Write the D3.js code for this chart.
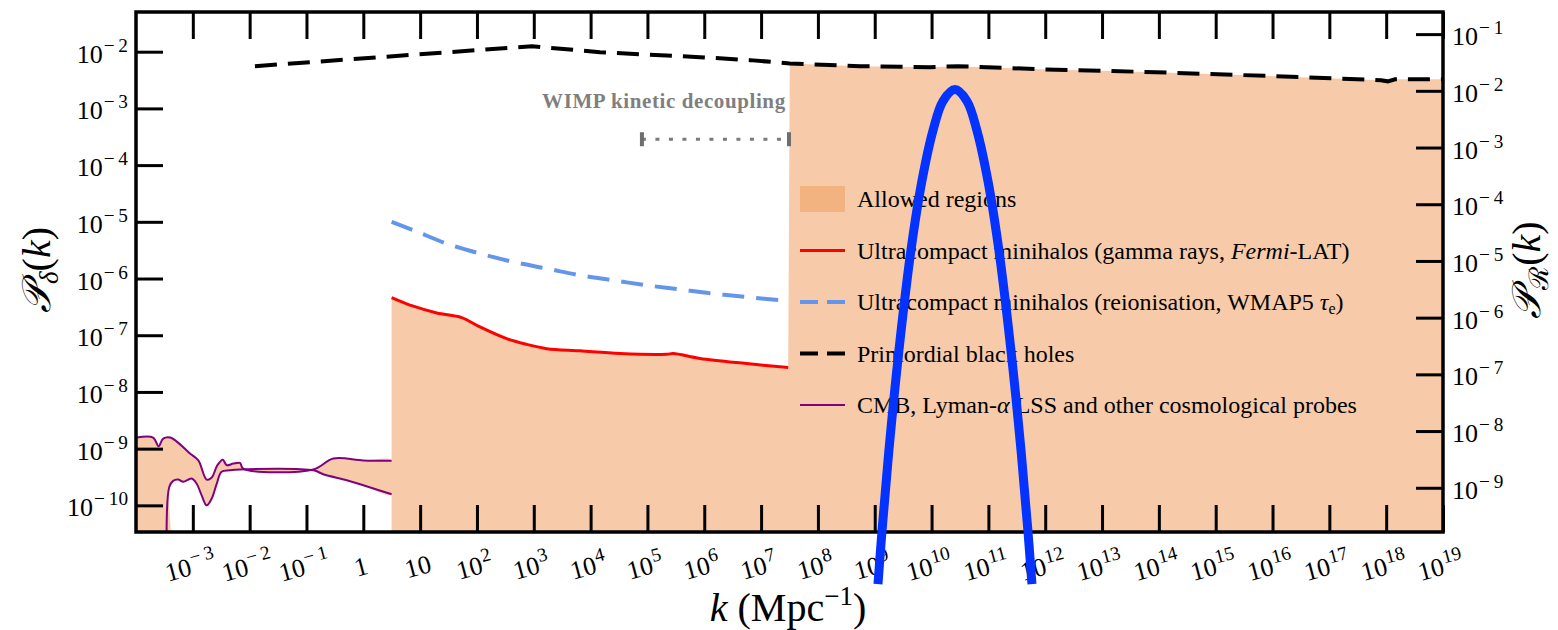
<!DOCTYPE html>
<html>
<head>
<meta charset="utf-8">
<title>Power spectrum constraints</title>
<script src="https://d3js.org/d3.v7.min.js"></script>
<style>
body { margin: 0; background: #fff; }
text { font-family: "Liberation Serif", "DejaVu Serif", serif; fill: #000; }
</style>
</head>
<body>
<div id="chart"></div>
<script>
// k in Mpc^-1, P_delta on left axis, P_R on right axis
var kTickExp = [-3,-2,-1,0,1,2,3,4,5,6,7,8,9,10,11,12,13,14,15,16,17,18,19];
var pdTickExp = [-2,-3,-4,-5,-6,-7,-8,-9,-10];
var prTickExp = [-1,-2,-3,-4,-5,-6,-7,-8,-9];

// CMB / Lyman-alpha / LSS band (upper and lower edge)
var cmbUpper = [[1.03e-4,1.57e-9],[2.0e-4,1.57e-9],[2.5e-4,1.1e-9],[3.0e-4,1.5e-9],[4.0e-4,1.57e-9],
  [5.9e-4,1.2e-9],[8.9e-4,8.2e-10],[1.25e-3,6.2e-10],[1.75e-3,2.85e-10],[2.15e-3,3.1e-10],
  [2.7e-3,5.1e-10],[3.36e-3,6.4e-10],[3.95e-3,5.1e-10],[5.15e-3,5.45e-10],[6.76e-3,5.6e-10],
  [7.7e-3,4.45e-10],[0.132,4.3e-10],[0.297,6.7e-10],[1.0,6.2e-10],[3.15,6.1e-10]];
var cmbLower = [[3.47e-4,1e-11],[3.85e-4,2.1e-10],[4.5e-4,2.7e-10],[5.5e-4,2.85e-10],[6.8e-4,2.6e-10],
  [9.5e-4,2.97e-10],[1.17e-3,2.4e-10],[1.43e-3,1.5e-10],[1.75e-3,1.0e-10],[2.15e-3,1.32e-10],
  [2.63e-3,2.4e-10],[3.2e-3,3.9e-10],[4.5e-3,4.15e-10],[6.76e-3,4.3e-10],[0.132,4.15e-10],
  [0.198,3.54e-10],[0.51,2.77e-10],[1.0,2.26e-10],[3.15,1.57e-10]];

// Ultracompact minihalos, gamma rays (Fermi-LAT)
var ucmhGamma = [[3.15,4.62e-7],[7.6,3.25e-7],[19.6,2.47e-7],[53.8,2.05e-7],[113,1.4e-7],[333,8.7e-8],
  [750,6.9e-8],[1690,5.8e-8],[6500,5.3e-8],[3.3e4,4.75e-8],[2.18e5,4.62e-8],[2.85e5,4.75e-8],
  [8.4e5,3.9e-8],[5.57e6,3.17e-8],[3.0e7,2.7e-8]];

// Ultracompact minihalos, reionisation (WMAP5)
var ucmhReion = [[3.15,9.95e-6],[7.6,7.1e-6],[29.3,4.14e-6],[113,2.76e-6],[435,1.96e-6],[1690,1.5e-6],
  [6500,1.14e-6],[2.5e4,9.3e-7],[9.7e4,7.6e-7],[3.73e5,6.4e-7],[1.44e6,5.4e-7],[5.57e6,4.73e-7],[3.0e7,4.0e-7]];

// Primordial black holes
var pbh = [[1.24e-2,5.55e-3],[930,1.25e-2],[1.46e4,9.8e-3],[8.4e5,8.0e-3],[6.4e6,7.1e-3],[3.2e7,6.2e-3],
  [5.5e8,5.55e-3],[9.4e9,5.33e-3],[2.9e10,5.55e-3],[8.1e11,4.9e-3],[8.9e13,4.35e-3],[1.1e16,3.7e-3],
  [8.1e17,3.14e-3],[1.07e18,3.0e-3],[1.43e18,3.27e-3],[1e19,3.27e-3]];

// WIMP kinetic decoupling range (k), at P_delta level
var wimpK = [8.0e4, 3.1e7];
var wimpP = 2.86e-4;
var wimpLabelK = 1.95e5, wimpLabelP = 1.34e-3;

// blue peak drawn over the plot, P_R (right axis)
var peak = [[1.14e9,2.0e-11],[1.34e9,1.7e-10],[1.78e9,4.7e-9],[2.67e9,2.7e-7],[4.34e9,1.55e-5],
  [6.78e9,2.6e-4],[1.06e10,2.0e-3],[1.59e10,6.6e-3],[2.58e10,1.05e-2],[4.19e10,6.6e-3],[6.28e10,2.0e-3],
  [9.8e10,2.6e-4],[1.53e11,1.55e-5],[2.49e11,2.7e-7],[3.74e11,4.7e-9],[4.97e11,1.7e-10],[5.84e11,2.0e-11]];

var legendItems = ["Allowed regions","Ultracompact minihalos (gamma rays, Fermi-LAT)",
  "Ultracompact minihalos (reionisation, WMAP5 τe)","Primordial black holes",
  "CMB, Lyman-α LSS and other cosmological probes"];

var W = 1558, H = 630;
var L = 136, R = 1443, T = 12, B = 532;
var orange = "#f7cbaa", orangeDark = "#f3b381";

var svg = d3.select("#chart").append("svg").attr("width", W).attr("height", H);

var x = d3.scaleLog().domain([1e-4, 1e19]).range([L, R]);
var yL = d3.scaleLog().domain([Math.pow(10,-10.47), Math.pow(10,-1.30)]).range([B, T]);
var yR = d3.scaleLog().domain([Math.pow(10,-9.78), Math.pow(10,-0.61)]).range([B, T]);
var floorP = 1e-11;

svg.append("clipPath").attr("id","plotclip").append("rect")
  .attr("x", L).attr("y", T).attr("width", R-L).attr("height", B-T);
var plot = svg.append("g").attr("clip-path","url(#plotclip)");

var line = d3.line().x(d => x(d[0])).y(d => yL(d[1]));
var lineS = d3.line().x(d => x(d[0])).y(d => yL(d[1])).curve(d3.curveCatmullRom);

// allowed regions
var cmbPoly = [[1e-4, cmbUpper[0][1]]].concat(cmbUpper)
  .concat(cmbLower.slice().reverse()).concat([[1e-4, floorP]]);
plot.append("path").attr("d", lineS(cmbPoly) + "Z").attr("fill", orange).attr("stroke","none");

var bigTop = ucmhGamma.concat(pbh.filter(d => d[0] >= 3.1e7));
var bigPoly = [[ucmhGamma[0][0], floorP]].concat(bigTop).concat([[1e19, floorP]]);
plot.append("path").attr("d", line(bigPoly) + "Z").attr("fill", orange).attr("stroke","none");

// curves
plot.append("path").attr("d", lineS(cmbUpper)).attr("fill","none").attr("stroke","#800080").attr("stroke-width",2);
plot.append("path").attr("d", lineS(cmbLower)).attr("fill","none").attr("stroke","#800080").attr("stroke-width",2);
plot.append("path").attr("d", lineS(ucmhGamma)).attr("fill","none").attr("stroke","#f00").attr("stroke-width",3);
plot.append("path").attr("d", lineS(ucmhReion)).attr("fill","none").attr("stroke","#6495ed")
  .attr("stroke-width",4).attr("stroke-dasharray","22,12");
plot.append("path").attr("d", line(pbh)).attr("fill","none").attr("stroke","#000")
  .attr("stroke-width",4).attr("stroke-dasharray","22,11");

// WIMP kinetic decoupling
var wy = yL(wimpP);
plot.append("line").attr("x1", x(wimpK[0])).attr("x2", x(wimpK[1])).attr("y1", wy).attr("y2", wy)
  .attr("stroke","#7a7a7a").attr("stroke-width",3).attr("stroke-dasharray","4,9.5");
plot.selectAll("rect.cap").data(wimpK).enter().append("rect").attr("class","cap")
  .attr("x", d => x(d) - 2).attr("y", wy - 7).attr("width", 4).attr("height", 14).attr("fill","#6e6e6e");
plot.append("text").attr("x", x(wimpLabelK)).attr("y", yL(wimpLabelP) + 7)
  .attr("text-anchor","middle").attr("font-size",21).attr("font-weight","bold").attr("letter-spacing",0.6)
  .style("fill","#7f7f7f").text("WIMP kinetic decoupling");

// legend
var lg = svg.append("g").attr("transform","translate(800,199)");
var rowH = 51.5;
lg.append("rect").attr("x",0).attr("y",-13).attr("width",45).attr("height",26).attr("fill",orangeDark);
lg.append("line").attr("x1",0).attr("x2",45).attr("y1",rowH).attr("y2",rowH).attr("stroke","#f00").attr("stroke-width",3);
lg.append("line").attr("x1",0).attr("x2",45).attr("y1",2*rowH).attr("y2",2*rowH).attr("stroke","#6495ed")
  .attr("stroke-width",4).attr("stroke-dasharray","18,9");
lg.append("line").attr("x1",0).attr("x2",45).attr("y1",3*rowH).attr("y2",3*rowH).attr("stroke","#000")
  .attr("stroke-width",4).attr("stroke-dasharray","18,9");
lg.append("line").attr("x1",0).attr("x2",45).attr("y1",4*rowH).attr("y2",4*rowH).attr("stroke","#800080").attr("stroke-width",2);
legendItems.forEach(function(s, i) {
  var t = lg.append("text").attr("x",57).attr("y", i*rowH + 8).attr("font-size",24);
  if (i == 1) {
    t.append("tspan").text("Ultracompact minihalos (gamma rays, ");
    t.append("tspan").attr("font-style","italic").text("Fermi");
    t.append("tspan").text("-LAT)");
  } else if (i == 2) {
    t.append("tspan").text("Ultracompact minihalos (reionisation, WMAP5 ");
    t.append("tspan").attr("font-style","italic").text("τ");
    t.append("tspan").attr("font-size",16).attr("dy",4).text("e");
    t.append("tspan").attr("dy",-4).text(")");
  } else if (i == 4) {
    t.append("tspan").text("CMB, Lyman-");
    t.append("tspan").attr("font-style","italic").text("α");
    t.append("tspan").text(" LSS and other cosmological probes");
  } else t.text(s);
});

// ticks (inward)
function styleAxis(g) {
  g.select(".domain").remove();
  g.selectAll("line").attr("stroke","#000").attr("stroke-width",3);
}
var kTicks = kTickExp.map(e => Math.pow(10, e));
svg.append("g").attr("transform","translate(0," + B + ")")
  .call(d3.axisBottom(x).tickValues(kTicks).tickSize(-27).tickSizeOuter(0).tickFormat("")).call(styleAxis);
svg.append("g").attr("transform","translate(0," + T + ")")
  .call(d3.axisTop(x).tickValues(kTicks).tickSize(-27).tickSizeOuter(0).tickFormat("")).call(styleAxis);
svg.append("g").attr("transform","translate(" + L + ",0)")
  .call(d3.axisLeft(yL).tickValues(pdTickExp.map(e => Math.pow(10,e))).tickSize(-27).tickSizeOuter(0).tickFormat("")).call(styleAxis);
svg.append("g").attr("transform","translate(" + R + ",0)")
  .call(d3.axisRight(yR).tickValues(prTickExp.map(e => Math.pow(10,e))).tickSize(-27).tickSizeOuter(0).tickFormat("")).call(styleAxis);

// frame
svg.append("rect").attr("x",L).attr("y",T).attr("width",R-L).attr("height",B-T)
  .attr("fill","none").attr("stroke","#000").attr("stroke-width",3.5);

// tick labels
function powLabel(t, e, fs) {
  if (e == 0) { t.append("tspan").text("1"); return; }
  if (e == 1) { t.append("tspan").text("10"); return; }
  t.append("tspan").text("10");
  t.append("tspan").attr("font-size", fs*0.74).attr("dy", -fs*0.42).attr("dx", 1)
    .text(String(e).replace("-","− ").replace("− ","−\u2009"));
}
var fsT = 26;
kTickExp.forEach(function(e) {
  var g = svg.append("g").attr("transform","translate(" + x(Math.pow(10,e)) + ",575) rotate(-15)");
  var t = g.append("text").attr("text-anchor","middle").attr("font-size",fsT).attr("y",0);
  powLabel(t, e, fsT);
});
pdTickExp.forEach(function(e) {
  var t = svg.append("text").attr("x", 128).attr("y", yL(Math.pow(10,e)) + 11)
    .attr("text-anchor","end").attr("font-size",fsT);
  powLabel(t, e, fsT);
});
prTickExp.forEach(function(e) {
  var t = svg.append("text").attr("x", 1452).attr("y", yR(Math.pow(10,e)) + 11)
    .attr("text-anchor","start").attr("font-size",fsT);
  powLabel(t, e, fsT);
});

// axis titles
var xt = svg.append("text").attr("x", 788).attr("y", 621).attr("text-anchor","middle").attr("font-size",40);
xt.append("tspan").attr("font-style","italic").text("k");
xt.append("tspan").text(" (Mpc");
xt.append("tspan").attr("font-size",27).attr("dy",-16).text("−1");
xt.append("tspan").attr("dy",16).text(")");

var ytl = svg.append("text").attr("transform","translate(50,270) rotate(-90)").attr("text-anchor","middle").attr("font-size",40);
ytl.append("tspan").attr("font-style","italic").text("𝒫");
ytl.append("tspan").attr("font-size",27).attr("dy",8).attr("font-style","italic").text("δ");
ytl.append("tspan").attr("dy",-8).text("(");
ytl.append("tspan").attr("font-style","italic").text("k");
ytl.append("tspan").text(")");

var ytr = svg.append("text").attr("transform","translate(1540,270) rotate(-90)").attr("text-anchor","middle").attr("font-size",40);
ytr.append("tspan").attr("font-style","italic").text("𝒫");
ytr.append("tspan").attr("font-size",27).attr("dy",8).text("ℛ");
ytr.append("tspan").attr("dy",-8).text("(");
ytr.append("tspan").attr("font-style","italic").text("k");
ytr.append("tspan").text(")");

// blue peak overlay, not clipped
var peakLine = d3.line().x(d => x(d[0])).y(d => yR(d[1])).curve(d3.curveCatmullRom);
svg.append("path").attr("d", peakLine(peak)).attr("fill","none").attr("stroke","#0433ff")
  .attr("stroke-width",9).attr("stroke-linejoin","round");
</script>
</body>
</html>
